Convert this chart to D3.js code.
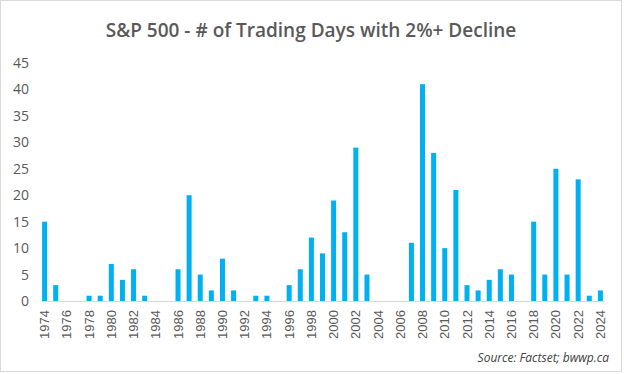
<!DOCTYPE html>
<html>
<head>
<meta charset="utf-8">
<script src="https://cdn.jsdelivr.net/npm/d3@7"></script>
<style>
  body { margin: 0; background: #fff; }
</style>
</head>
<body>
<div id="chart"></div>
<script>
// data
const years = d3.range(1974, 2025);
const declineDays = [15, 3, 0, 0, 1, 1, 7, 4, 6, 1, 0, 0, 6, 20, 5, 2, 8, 2, 0, 1, 1, 0, 3, 6, 12, 9,
  19, 13, 29, 5, 0, 0, 0, 11, 41, 28, 10, 21, 3, 2, 4, 6, 5, 0, 15, 5, 25, 5, 23, 1, 2];
const yTicks = [0, 5, 10, 15, 20, 25, 30, 35, 40, 45];

const W = 624, H = 374;
const margin = { top: 63, right: 20, bottom: 73, left: 41 };
const width = W - margin.left - margin.right,
  height = H - margin.top - margin.bottom;

const svgRoot = d3.select("#chart").append("svg")
  .attr("width", W)
  .attr("height", H);

// outer chart border
svgRoot.append("rect")
  .attr("x", 0.5).attr("y", 0.5)
  .attr("width", W - 3).attr("height", H - 3)
  .attr("fill", "#fff")
  .attr("stroke", "#d9d9d9");

svgRoot.append("text")
  .attr("x", 311)
  .attr("y", 37)
  .attr("text-anchor", "middle")
  .style("font-family", "'Open Sans', sans-serif")
  .style("font-size", "19px")
  .style("font-weight", 600)
  .attr("fill", "#595959")
  .text("S&P 500 - # of Trading Days with 2%+ Decline");

const svg = svgRoot.append("g")
  .attr("transform", `translate(${margin.left},${margin.top})`);

const x = d3.scaleBand().domain(years).range([0, width]).paddingInner(0.55).paddingOuter(0.1);
const y = d3.scaleLinear().domain([0, 45]).range([height, 0]);

// Y axis labels (no line)
const yAxis = svg.append("g")
  .call(d3.axisLeft(y).tickValues(yTicks).tickSize(0).tickPadding(12));
yAxis.select(".domain").remove();
yAxis.selectAll("text")
  .style("font-family", "'Open Sans', sans-serif")
  .style("font-size", "14px")
  .attr("fill", "#595959");

// bars
svg.append("g")
  .selectAll("rect")
  .data(declineDays)
  .join("rect")
  .attr("x", (d, i) => x(years[i]))
  .attr("y", (d) => y(d))
  .attr("width", x.bandwidth())
  .attr("height", (d) => height - y(d))
  .attr("fill", "#00b0f0");

// X axis
const xAxis = svg.append("g")
  .attr("transform", `translate(0, ${height})`)
  .call(d3.axisBottom(x).tickValues(years.filter((d) => d % 2 === 0)).tickSize(0).tickSizeOuter(0));
xAxis.select(".domain").attr("stroke", "#d9d9d9");
xAxis.selectAll("text")
  .attr("transform", "rotate(-90)")
  .attr("text-anchor", "end")
  .attr("x", -9)
  .attr("y", 0)
  .attr("dy", "0.35em")
  .style("font-family", "'Liberation Sans', Arial, sans-serif")
  .style("font-size", "13px")
  .attr("fill", "#595959");

svgRoot.append("text")
  .attr("x", 609)
  .attr("y", 362)
  .attr("text-anchor", "end")
  .style("font-family", "'Open Sans', sans-serif")
  .style("font-size", "12px")
  .style("font-style", "italic")
  .attr("fill", "#404040")
  .text("Source: Factset; bwwp.ca");
</script>
</body>
</html>
